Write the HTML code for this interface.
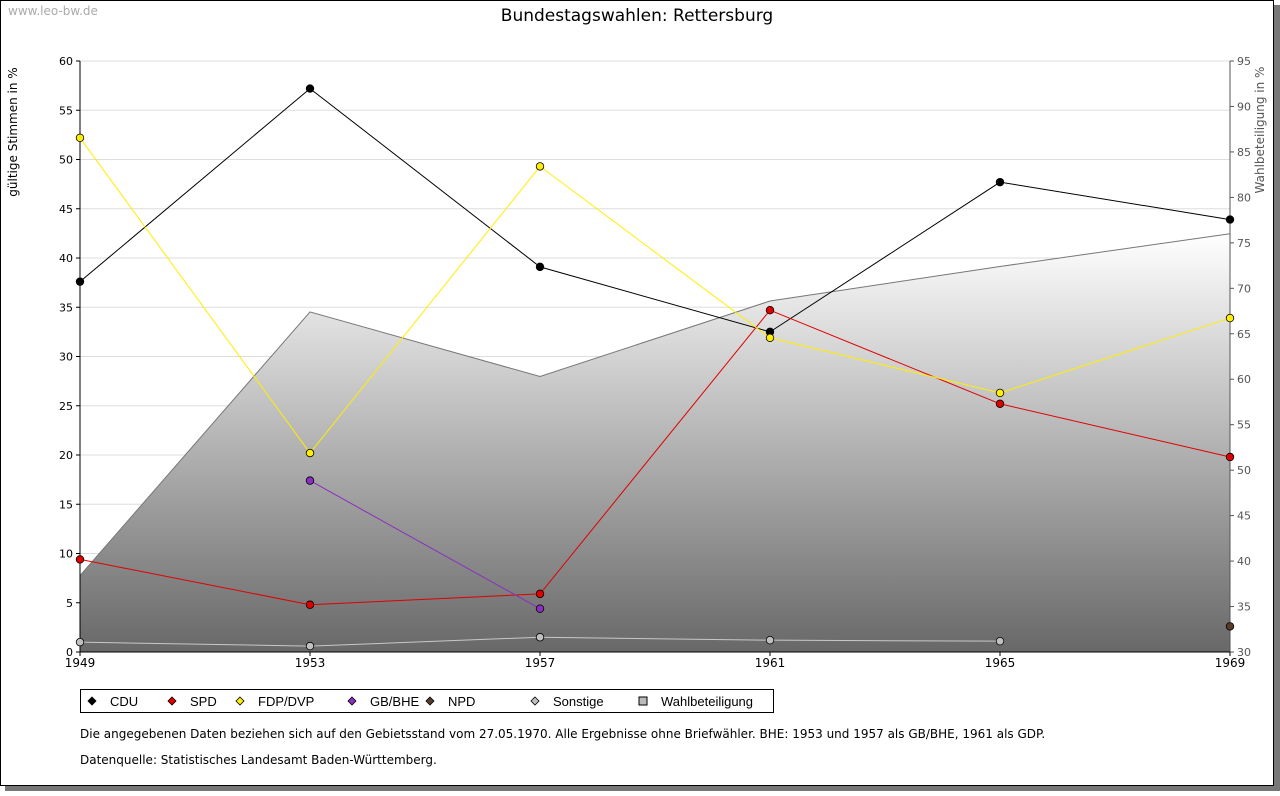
<!DOCTYPE html>
<html><head><meta charset="utf-8"><style>
body{margin:0;background:#fff;font-family:"Liberation Sans","DejaVu Sans",sans-serif;}
svg text{font-family:"DejaVu Sans","Liberation Sans",sans-serif;}
svg #leg text{font-family:"Liberation Sans","DejaVu Sans",sans-serif;}
</style></head><body>
<svg id="c" width="1280" height="791" xmlns="http://www.w3.org/2000/svg">
<defs>
<linearGradient id="g" x1="0" y1="0" x2="0" y2="1"><stop offset="0" stop-color="#ffffff"/><stop offset="1" stop-color="#686868"/></linearGradient>
</defs>
<rect x="5" y="5" width="1275" height="786" fill="#777"/>
<rect x="0.5" y="0.5" width="1273" height="785" fill="#fff" stroke="#000"/>
<text x="8" y="15" font-size="12" fill="#aaa">www.leo-bw.de</text>
<text x="637" y="21" font-size="17" text-anchor="middle">Bundestagswahlen: Rettersburg</text>
<text transform="translate(17,132) rotate(-90)" font-size="12" text-anchor="middle">gültige Stimmen in %</text>
<text transform="translate(1264,130) rotate(-90)" font-size="12" fill="#555" text-anchor="middle">Wahlbeteiligung in %</text>
<g id="plot"></g>
<g>
<rect x="80.5" y="689.5" width="693" height="23" fill="#fff" stroke="#000"/>
<g id="leg"></g>
</g>
<text x="80" y="738" font-size="12">Die angegebenen Daten beziehen sich auf den Gebietsstand vom 27.05.1970. Alle Ergebnisse ohne Briefwähler. BHE: 1953 und 1957 als GB/BHE, 1961 als GDP.</text>
<text x="80" y="764" font-size="12">Datenquelle: Statistisches Landesamt Baden-Württemberg.</text>
</svg>
<script>
const years=[1949,1953,1957,1961,1965,1969];
const cdu=[37.6,57.2,39.1,32.5,47.7,43.9];
const spd=[9.4,4.8,5.9,34.7,25.2,19.8];
const fdp=[52.2,20.2,49.3,31.9,26.3,33.9];
const gbbhe=[null,17.4,4.4,null,null,null];
const npd=[null,null,null,null,null,2.6];
const sonstige=[1.0,0.6,1.5,1.2,1.1,null];
const turnout=[38.4,67.4,60.3,68.6,72.4,76.0];
const leftTicks=[0,5,10,15,20,25,30,35,40,45,50,55,60];
const rightTicks=[30,35,40,45,50,55,60,65,70,75,80,85,90,95];
const NS='http://www.w3.org/2000/svg';
const X0=80,X1=1230,YB=652,YT=61;
const x=v=>X0+(v-1949)/(1969-1949)*(X1-X0);
const y=v=>YB-v/60*(YB-YT);
const y2=v=>YB-(v-30)/65*(YB-YT);
const P=document.getElementById('plot');
function el(t,a,p){const e=document.createElementNS(NS,t);for(const k in a)e.setAttribute(k,a[k]);(p||P).appendChild(e);return e;}
leftTicks.forEach(t=>{
 const g=el('line',{x1:X0,x2:X1,y1:y(t),y2:y(t),stroke:'#ddd'});
 
 
 const l=el('text',{x:X0-7,y:y(t)+4,'font-size':11,'text-anchor':'end'});l.textContent=t;
 
 
 el('line',{x1:X0-4,x2:X0,y1:y(t),y2:y(t),stroke:'#000'});
});
let d='M'+x(years[0])+','+YB;
years.forEach((yr,i)=>d+=' L'+x(yr)+','+y2(turnout[i]));
d+=' L'+x(years[years.length-1])+','+YB+' Z';
const a=el('path',{d:d,fill:'url(#g)'});


let dl='';years.forEach((yr,i)=>dl+=(i?' L':'M')+x(yr)+','+y2(turnout[i]));
el('path',{d:dl,fill:'none',stroke:'#777'});
rightTicks.forEach(t=>{
 el('line',{x1:X1,x2:X1+4,y1:y2(t),y2:y2(t),stroke:'#555'});
 const l=el('text',{x:X1+7,y:y2(t)+4,'font-size':11,fill:'#555'});l.textContent=t;
 
 
});
el('line',{x1:X0,x2:X0,y1:YT,y2:YB,stroke:'#000'});
el('line',{x1:X1,x2:X1,y1:YT,y2:YB,stroke:'#555'});
el('line',{x1:X0,x2:X1,y1:YB,y2:YB,stroke:'#000'});
years.forEach(yr=>{
 el('line',{x1:x(yr),x2:x(yr),y1:YB,y2:YB+4,stroke:'#000'});
 const l=el('text',{x:x(yr),y:YB+15,'font-size':12,'text-anchor':'middle'});l.textContent=yr;
 
 
});
const series=[['cdu',cdu,'#000'],['spd',spd,'#e00000'],['fdp',fdp,'#ffee00'],['gb-bhe',gbbhe,'#8a2fc0'],['npd',npd,'#5a3a28'],['sonstige',sonstige,'#c0c0c0']];
const lineCol={cdu:'#000',spd:'#e00000',fdp:'#ffee00','gb-bhe':'#8a2fc0',npd:'#5a3a28',sonstige:'#c8c8c8'};
series.forEach(([n,vals,c])=>{
 let p='',started=false;
 vals.forEach((v,i)=>{if(v==null){started=false;return;}p+=(started?' L':' M')+x(years[i])+','+y(v);started=true;});
 const ln=el('path',{d:p,fill:'none',stroke:lineCol[n],'stroke-width':1});
 
 
 vals.forEach((v,i)=>{if(v==null)return;
  const m=el('circle',{cx:x(years[i]),cy:y(v),r:3.8,fill:c,stroke:'#000','stroke-width':0.8});
  
  
 });
});
const L=document.getElementById('leg');
const legItems=[['CDU','#000',92],['SPD','#e00000',172],['FDP/DVP','#ffee00',240],['GB/BHE','#8a2fc0',352],['NPD','#5a3a28',430],['Sonstige','#c0c0c0',535],['Wahlbeteiligung','#bbb',643]];
legItems.forEach(([t,c,lx],i)=>{
 const g=el('g',{},L);
 
 
 if(i==legItems.length-1) el('rect',{x:lx-4,y:697,width:8,height:8,fill:c,stroke:'#000'},g);
 else el('polygon',{points:`${lx},697 ${lx+4},701 ${lx},705 ${lx-4},701`,fill:c,stroke:'#000','stroke-width':0.8},g);
 const tx=el('text',{x:lx+18,y:706,'font-size':13},g);tx.textContent=t;
});
</script>
</body></html>
